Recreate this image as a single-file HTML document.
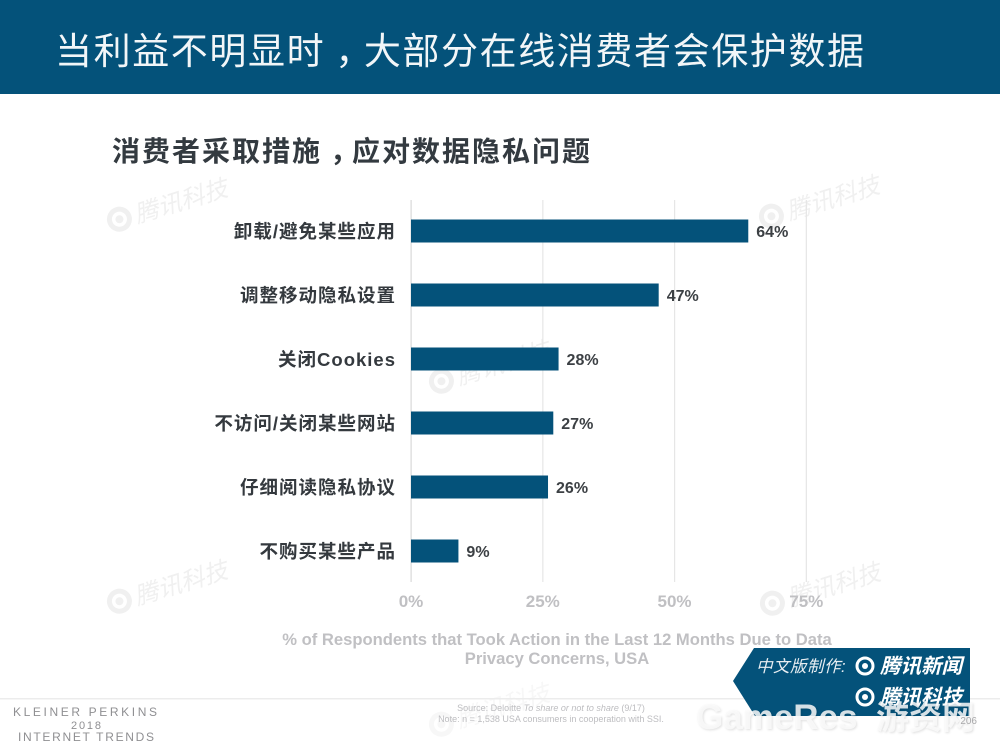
<!DOCTYPE html>
<html lang="zh">
<head>
<meta charset="utf-8">
<title>当利益不明显时,大部分在线消费者会保护数据</title>
<style>
html,body{margin:0;padding:0;background:#fff;}
#slide{position:relative;width:1000px;height:750px;overflow:hidden;background:#fff;}
svg{position:absolute;left:0;top:0;}
text{font-family:"Liberation Sans","Noto Sans CJK SC",sans-serif;}
</style>
</head>
<body>
<div id="slide">
<svg id="chart" width="1000" height="750" viewBox="0 0 1000 750">
  <rect x="0" y="0" width="1000" height="94" fill="#04527a"/>
  <text x="55" y="64" font-size="37" letter-spacing="1.6" fill="#f2f6f8">当利益不明显时<tspan dx="10">&#65292;</tspan><tspan dx="-10">大部分在线消费者会保护数据</tspan></text>
  <text x="112" y="161" font-size="28" letter-spacing="2" font-weight="700" fill="#333a40">消费者采取措施<tspan dx="8">&#65292;</tspan><tspan dx="-8">应对数据隐私问题</tspan></text>

  <g id="watermarks" fill="#f0f0f0">
    <g transform="translate(107,223) rotate(-17)"><circle cx="13" cy="0" r="10" fill="none" stroke="#f0f0f0" stroke-width="5"/><circle cx="13" cy="0" r="4"/><text x="29" y="9" font-size="24" font-style="italic">腾讯科技</text></g>
    <g transform="translate(759,220) rotate(-17)"><circle cx="13" cy="0" r="10" fill="none" stroke="#f0f0f0" stroke-width="5"/><circle cx="13" cy="0" r="4"/><text x="29" y="9" font-size="24" font-style="italic">腾讯科技</text></g>
    <g transform="translate(429,385) rotate(-17)"><circle cx="13" cy="0" r="10" fill="none" stroke="#f0f0f0" stroke-width="5"/><circle cx="13" cy="0" r="4"/><text x="29" y="9" font-size="24" font-style="italic">腾讯科技</text></g>
    <g transform="translate(107,605) rotate(-17)"><circle cx="13" cy="0" r="10" fill="none" stroke="#f0f0f0" stroke-width="5"/><circle cx="13" cy="0" r="4"/><text x="29" y="9" font-size="24" font-style="italic">腾讯科技</text></g>
    <g transform="translate(760,607) rotate(-17)"><circle cx="13" cy="0" r="10" fill="none" stroke="#f0f0f0" stroke-width="5"/><circle cx="13" cy="0" r="4"/><text x="29" y="9" font-size="24" font-style="italic">腾讯科技</text></g>
    <g transform="translate(429,728) rotate(-17)" fill="#f7f7f7"><circle cx="13" cy="0" r="10" fill="none" stroke="#f7f7f7" stroke-width="5"/><circle cx="13" cy="0" r="4"/><text x="29" y="9" font-size="24" font-style="italic">腾讯科技</text></g>
  </g>

  <g id="grid"></g>
  <g id="bars"></g>
  <g id="cats"></g>
  <g id="vals"></g>
  <g id="ticks"></g>

  <text text-anchor="middle" font-size="16.6" font-weight="700" fill="#c0c0c3"><tspan x="557" y="645">% of Respondents that Took Action in the Last 12 Months Due to Data</tspan><tspan x="557" y="664">Privacy Concerns, USA</tspan></text>

  <rect x="0" y="698" width="1000" height="1.5" fill="#ececec"/>
  <g fill="#8f8f92">
    <text x="13" y="716" font-size="12" textLength="144" lengthAdjust="spacing">KLEINER PERKINS</text>
    <text x="71" y="729" font-size="11" textLength="30" lengthAdjust="spacing">2018</text>
    <text x="18" y="741" font-size="12" textLength="136" lengthAdjust="spacing">INTERNET TRENDS</text>
  </g>
  <text font-size="9" fill="#bdbdc0" text-anchor="middle"><tspan x="551" y="711">Source: Deloitte <tspan font-style="italic">To share or not to share</tspan> (9/17)</tspan><tspan x="551" y="722">Note: n = 1,538 USA consumers in cooperation with SSI.</tspan></text>

  <polygon points="754,648 970,648 970,716 755,716 733,681" fill="#04527a"/>
  <text x="756" y="672" font-size="16.5" letter-spacing="0.5" font-style="italic" fill="#e8eef2">中文版制作:</text>
  <g><circle cx="865" cy="666" r="8" fill="none" stroke="#ffffff" stroke-width="3"/><circle cx="865" cy="666" r="3" fill="#ffffff"/></g>
  <text x="880" y="673" font-size="20.5" font-style="italic" font-weight="700" fill="#ffffff">腾讯新闻</text>
  <g><circle cx="865" cy="697" r="8" fill="none" stroke="#ffffff" stroke-width="3"/><circle cx="865" cy="697" r="3" fill="#ffffff"/></g>
  <text x="880" y="704" font-size="20.5" font-style="italic" font-weight="700" fill="#ffffff">腾讯科技</text>

  <text x="696" y="729" font-size="35" font-weight="700" fill="#fafafa" fill-opacity="0.85" style="filter:drop-shadow(1px 1px 1px rgba(0,0,0,0.14))">GameRes</text>
  <text x="876" y="729" font-size="33" font-weight="700" fill="#fafafa" fill-opacity="0.85" style="filter:drop-shadow(1px 1px 1px rgba(0,0,0,0.14))">游资网</text>
  <text x="977" y="724" font-size="10" fill="#a8a8aa" text-anchor="end">206</text>
</svg>
</div>
<script>
var categories = ["卸载/避免某些应用", "调整移动隐私设置", "关闭Cookies", "不访问/关闭某些网站", "仔细阅读隐私协议", "不购买某些产品"];
var seriesValues = [64, 47, 28, 27, 26, 9];
var tickValues = [0, 25, 50, 75];

var NS = "http://www.w3.org/2000/svg";
function xScale(v) { return 411 + v * 5.27; }
function bandCenter(i) { return 231 + i * 64; }
function add(parentId, tag, attrs, txt) {
  var el = document.createElementNS(NS, tag);
  for (var k in attrs) { el.setAttribute(k, attrs[k]); }
  if (txt !== undefined) { el.textContent = txt; }
  document.getElementById(parentId).appendChild(el);
  return el;
}
tickValues.forEach(function (t) {
  var line = add("grid", "rect", { x: xScale(t) - 0.5, y: 200, width: 1.2, height: 382, fill: t === 0 ? "#d9d9d9" : "#e6e6e6" });
  
  
  var label = add("ticks", "text", { x: xScale(t), y: 607, "text-anchor": "middle", "font-size": 17, "font-weight": 700, fill: "#c0c0c3" }, t + "%");
  
  
});
seriesValues.forEach(function (v, i) {
  var cy = bandCenter(i);
  var bar = add("bars", "rect", { x: xScale(0), y: cy - 11.5, width: xScale(v) - xScale(0), height: 23, fill: "#04527a" });
  
  
  var cat = add("cats", "text", { x: 396, y: cy + 7, "text-anchor": "end", "font-size": 18.5, "font-weight": 700, "letter-spacing": "1", fill: "#34393e" }, categories[i]);
  
  
  var val = add("vals", "text", { x: xScale(v) + 8, y: cy + 6, "font-size": 16, "font-weight": 700, fill: "#3c4044" }, v + "%");
  
  
});
</script>
</body>
</html>
